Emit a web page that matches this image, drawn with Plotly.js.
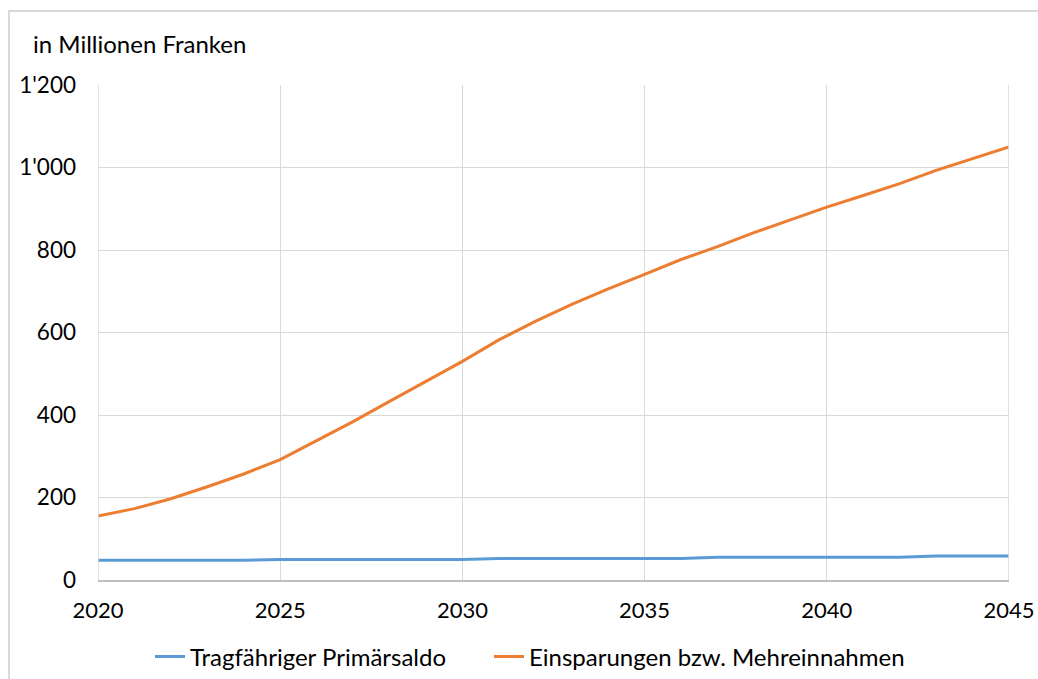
<!DOCTYPE html>
<html>
<head>
<meta charset="utf-8">
<script src="https://cdn.plot.ly/plotly-3.0.1.min.js"></script>
<style>
  html, body { margin: 0; padding: 0; background: #ffffff; }
  #wrap { position: relative; width: 1038px; height: 679px; overflow: hidden; }
  #chart { position: absolute; left: 0; top: 0; width: 1038px; height: 679px; }
  #frame { position: absolute; left: 8px; top: 10px; width: 1100px; height: 700px;
           border-top: 2px solid #d9d9d9; border-left: 2px solid #d9d9d9; pointer-events: none; }
</style>
</head>
<body>
<div id="wrap">
  <div id="chart"></div>
  <div id="frame"></div>
</div>
<script>
const years = [2020, 2021, 2022, 2023, 2024, 2025, 2026, 2027, 2028, 2029, 2030, 2031, 2032,
               2033, 2034, 2035, 2036, 2037, 2038, 2039, 2040, 2041, 2042, 2043, 2044, 2045];
const primaersaldo = [48, 48, 48, 48, 48, 50, 50, 50, 50, 50, 50, 52, 52,
                      52, 52, 52, 52, 55, 55, 55, 55, 55, 55, 58, 58, 58];
const einsparungen = [155, 173, 197, 226, 257, 292, 338, 384, 433, 482, 530, 582, 627,
                      668, 706, 741, 777, 808, 842, 873, 904, 932, 961, 993, 1022, 1050];
const seriesNames = ['Tragfähriger Primärsaldo', 'Einsparungen bzw. Mehreinnahmen'];
const titleText = 'in Millionen Franken';
const yTicks = [0, 200, 400, 600, 800, 1000, 1200];
const xTicks = [2020, 2025, 2030, 2035, 2040, 2045];

const FONT = 'Lato, "Open Sans", "Liberation Sans", sans-serif';

const traces = [
  { x: years, y: primaersaldo, name: seriesNames[0], type: 'scatter', mode: 'lines',
    line: { color: '#5b9bd5', width: 3 }, legend: 'legend' },
  { x: years, y: einsparungen, name: seriesNames[1], type: 'scatter', mode: 'lines',
    line: { color: '#ed7d31', width: 3 }, legend: 'legend2' }
];

const legendBase = {
  orientation: 'h', xref: 'container', yref: 'container',
  xanchor: 'left', y: 1 - 657 / 679, yanchor: 'middle',
  font: { family: FONT, size: 24, color: '#000000' },
  itemwidth: 30, tracegroupgap: 0, bgcolor: 'rgba(0,0,0,0)'
};

const layout = {
  width: 1038, height: 679,
  margin: { l: 98, r: 29, t: 85, b: 99 },
  paper_bgcolor: '#ffffff', plot_bgcolor: '#ffffff',
  separators: ".'",
  font: { family: FONT, size: 22, color: '#000000' },
  title: { text: titleText, x: 33 / 1038, xanchor: 'left', xref: 'container',
           y: 1 - 45 / 679, yanchor: 'middle', yref: 'container',
           font: { family: FONT, size: 24, color: '#000000' } },
  xaxis: { range: [2020, 2045], tickvals: xTicks, ticktext: xTicks.map(String),
           showgrid: true, gridcolor: '#d9d9d9', gridwidth: 1,
           showline: true, linecolor: '#bfbfbf', linewidth: 1.5, mirror: false,
           zeroline: false, ticks: '', ticklabelstandoff: 10,
           tickfont: { family: FONT, size: 22, color: '#000000' } },
  yaxis: { range: [0, 1200], tickvals: yTicks, tickformat: ',d',
           showgrid: true, gridcolor: '#d9d9d9', gridwidth: 1,
           showline: false, zeroline: false, ticks: '', ticklabelstandoff: 21,
           tickfont: { family: FONT, size: 22.5, color: '#000000' } },
  shapes: [
    { type: 'line', xref: 'x', yref: 'paper', x0: 2045, x1: 2045, y0: 0, y1: 1,
      line: { color: '#d9d9d9', width: 1.5 } },
    { type: 'line', xref: 'x', yref: 'paper', x0: 2020, x1: 2020, y0: 0, y1: 1,
      line: { color: '#d9d9d9', width: 1.5 } }
  ],
  showlegend: true,
  legend: Object.assign({}, legendBase, { x: 150 / 1038 }),
  legend2: Object.assign({}, legendBase, { x: 489 / 1038 })
};

Plotly.newPlot('chart', traces, layout, { displayModeBar: false, staticPlot: true });
</script>
</body>
</html>
